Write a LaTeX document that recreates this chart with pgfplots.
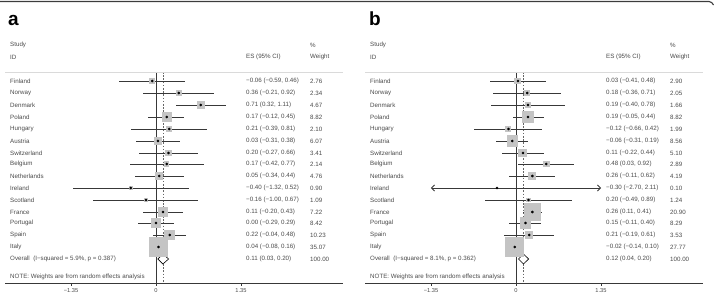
\documentclass[border=0pt]{standalone}
\usepackage{pgfplots}
\pgfplotsset{compat=1.18}
\usepackage{pgfplotstable}
\usepackage{fontspec}
\setmainfont{Liberation Sans}
\usetikzlibrary{arrows.meta}

\definecolor{txtgray}{HTML}{4A4A4A}
\definecolor{boxgray}{HTML}{C4C4C4}
\definecolor{cigray}{HTML}{383838}
\definecolor{rulegray}{HTML}{DADADA}
\definecolor{framegray}{HTML}{3C3C3C}

% columns: y = -(row position), es = estimate, lo/hi = 95% CI, w = % weight
\pgfplotstableread{
y    es    lo    hi    w
-81  -0.06 -0.59 0.46  2.76
-93   0.36 -0.21 0.92  2.34
-105  0.71  0.32 1.11  4.67
-117  0.17 -0.12 0.45  8.82
-129  0.21 -0.39 0.81  2.10
-141  0.03 -0.31 0.38  6.07
-153  0.20 -0.27 0.66  3.41
-164  0.17 -0.42 0.77  2.14
-176  0.05 -0.34 0.44  4.76
-188 -0.40 -1.32 0.52  0.90
-200 -0.16 -1.00 0.67  1.09
-212  0.11 -0.20 0.43  7.22
-223  0.00 -0.29 0.29  8.42
-235  0.22 -0.04 0.48 10.23
-247  0.04 -0.08 0.16 35.07
}\studiesA

% Ireland (-0.30, CI -2.70 to 2.11) runs past the axis range and is drawn on its own
\pgfplotstableread{
y    es    lo    hi    w
-81   0.03 -0.41 0.48  2.90
-93   0.18 -0.36 0.71  2.05
-105  0.19 -0.40 0.78  1.66
-117  0.19 -0.05 0.44  8.82
-129 -0.12 -0.66 0.42  1.99
-141 -0.06 -0.31 0.19  8.56
-153  0.11 -0.22 0.44  5.10
-164  0.48  0.03 0.92  2.89
-176  0.26 -0.11 0.62  4.19
-200  0.20 -0.49 0.89  1.24
-212  0.26  0.11 0.41 20.90
-223  0.15 -0.11 0.40  8.29
-235  0.21 -0.19 0.61  3.53
-247 -0.02 -0.14 0.10 27.77
}\studiesB

\pgfplotsset{
  forest/.style={
    anchor=south west, scale only axis,
    width=338pt, height=283pt,
    xmin=-2.398, xmax=2.970, ymin=-283, ymax=0,
    axis y line=none, axis x line*=bottom,
    x axis line style={line width=0.6pt, draw=cigray},
    xtick={-1.35,0,1.35}, xticklabels={−1.35,0,1.35},
    tick align=outside, major tick length=2.5pt,
    xtick style={line width=0.5pt, draw=cigray},
    ticklabel style={font=\fontsize{5.7}{6}\selectfont, text=txtgray},
    xticklabel style={yshift=0.5pt},
    clip=false,
  },
  boxes/.style={
    boxgray, scatter, only marks, mark=square*,
    mark options={draw=boxgray, fill=boxgray, line width=0pt},
    scatter/use mapped color={draw=boxgray, fill=boxgray},
    visualization depends on={\thisrow{w} \as \wt},
    scatter/@pre marker code/.append style={/tikz/mark size={#1*sqrt(\wt)}},
  },
  cis/.style={
    only marks, mark=*, mark size=1.1pt, mark options={fill=black, draw=none},
    error bars/.cd, x dir=both, x explicit, error mark=none,
    error bar style={line width=0.75pt, cigray},
  },
}

\newcommand\studyrow[5]{%
  \node[anchor=west] at (#1+10,#2) {#3};
  \node[anchor=west] at (#1+246,#2) {#4};
  \node[anchor=west] at (#1+310,#2) {#5};}

\begin{document}
\begin{tikzpicture}[x=1pt, y=-1pt]
\useasboundingbox (0,0) rectangle (714,296);

% frame line along the top
\draw[framegray, line width=1.1pt] (0,1.5) -- (709,1.5) to[out=0, in=120] (713.5,5);

% ---------------- panel a ----------------
\begin{axis}[forest, at={(5pt,-283pt)}]
  \addplot[cigray, line width=0.6pt] coordinates {(0,-72) (0,-283)};
  \addplot[black!60, line width=0.5pt, dash pattern=on 1.6pt off 1.6pt] coordinates {(0.11,-72) (0.11,-283)};
  \addplot[boxes=1.55] table[x=es, y=y] {\studiesA};
  \addplot[cis] table[x=es, y=y,
    x error plus expr=\thisrow{hi}-\thisrow{es},
    x error minus expr=\thisrow{es}-\thisrow{lo}] {\studiesA};
  \addplot[draw=black, fill=white, line width=0.6pt]
    coordinates {(0.03,-259) (0.11,-254) (0.20,-259) (0.11,-264)} -- cycle;
\end{axis}

% ---------------- panel b ----------------
\begin{axis}[forest, at={(365pt,-283pt)}]
  \addplot[cigray, line width=0.6pt] coordinates {(0,-72) (0,-283)};
  \addplot[black!60, line width=0.5pt, dash pattern=on 1.6pt off 1.6pt] coordinates {(0.12,-72) (0.12,-283)};
  \addplot[boxes=1.75] table[x=es, y=y] {\studiesB};
  \addplot[cis] table[x=es, y=y,
    x error plus expr=\thisrow{hi}-\thisrow{es},
    x error minus expr=\thisrow{es}-\thisrow{lo}] {\studiesB};
  % Ireland: interval clipped to the axis range
  \addplot[cigray, line width=0.75pt,
    {Straight Barb[length=3pt, width=6pt]}-{Straight Barb[length=3pt, width=6pt]}]
    coordinates {(-1.35,-188) (1.35,-188)};
  \addplot[only marks, mark=*, mark size=1.1pt, mark options={fill=black, draw=none}]
    coordinates {(-0.30,-188)};
  \addplot[draw=black, fill=white, line width=0.6pt]
    coordinates {(0.04,-259) (0.12,-254) (0.20,-259) (0.12,-264)} -- cycle;
\end{axis}

% header rules
\draw[rulegray, line width=0.6pt] (5,72) -- (343,72);
\draw[rulegray, line width=0.6pt] (365,72) -- (703,72);

% panel letters
\node[anchor=base west, font=\fontsize{19}{20}\selectfont\bfseries, inner sep=0] at (8,26) {a};
\node[anchor=base west, font=\fontsize{19}{20}\selectfont\bfseries, inner sep=0] at (369,26) {b};

\begin{scope}[every node/.style={inner sep=0, text=txtgray, font=\fontsize{6.2}{7}\selectfont}]
  \foreach \o in {0,360} {
    \node[anchor=west] at (\o+10,45) {Study};
    \node[anchor=west] at (\o+10,57) {ID};
    \node[anchor=west] at (\o+246,57) {ES (95\% CI)};
    \node[anchor=west] at (\o+310,45) {\%};
    \node[anchor=west] at (\o+310,57) {Weight};
    \node[anchor=west] at (\o+10,277) {NOTE: Weights are from random effects analysis};
  }
  % panel a text
  \studyrow{0}{81}{Finland}{−0.06 (−0.59, 0.46)}{2.76}
  \studyrow{0}{93}{Norway}{0.36 (−0.21, 0.92)}{2.34}
  \studyrow{0}{105}{Denmark}{0.71 (0.32, 1.11)}{4.67}
  \studyrow{0}{117}{Poland}{0.17 (−0.12, 0.45)}{8.82}
  \studyrow{0}{129}{Hungary}{0.21 (−0.39, 0.81)}{2.10}
  \studyrow{0}{141}{Austria}{0.03 (−0.31, 0.38)}{6.07}
  \studyrow{0}{153}{Switzerland}{0.20 (−0.27, 0.66)}{3.41}
  \studyrow{0}{164}{Belgium}{0.17 (−0.42, 0.77)}{2.14}
  \studyrow{0}{176}{Netherlands}{0.05 (−0.34, 0.44)}{4.76}
  \studyrow{0}{188}{Ireland}{−0.40 (−1.32, 0.52)}{0.90}
  \studyrow{0}{200}{Scotland}{−0.16 (−1.00, 0.67)}{1.09}
  \studyrow{0}{212}{France}{0.11 (−0.20, 0.43)}{7.22}
  \studyrow{0}{223}{Portugal}{0.00 (−0.29, 0.29)}{8.42}
  \studyrow{0}{235}{Spain}{0.22 (−0.04, 0.48)}{10.23}
  \studyrow{0}{247}{Italy}{0.04 (−0.08, 0.16)}{35.07}
  \studyrow{0}{259}{Overall\ \ (I−squared = 5.9\%, p = 0.387)}{0.11 (0.03, 0.20)}{100.00}
  % panel b text
  \studyrow{360}{81}{Finland}{0.03 (−0.41, 0.48)}{2.90}
  \studyrow{360}{93}{Norway}{0.18 (−0.36, 0.71)}{2.05}
  \studyrow{360}{105}{Denmark}{0.19 (−0.40, 0.78)}{1.66}
  \studyrow{360}{117}{Poland}{0.19 (−0.05, 0.44)}{8.82}
  \studyrow{360}{129}{Hungary}{−0.12 (−0.66, 0.42)}{1.99}
  \studyrow{360}{141}{Austria}{−0.06 (−0.31, 0.19)}{8.56}
  \studyrow{360}{153}{Switzerland}{0.11 (−0.22, 0.44)}{5.10}
  \studyrow{360}{164}{Belgium}{0.48 (0.03, 0.92)}{2.89}
  \studyrow{360}{176}{Netherlands}{0.26 (−0.11, 0.62)}{4.19}
  \studyrow{360}{188}{Ireland}{−0.30 (−2.70, 2.11)}{0.10}
  \studyrow{360}{200}{Scotland}{0.20 (−0.49, 0.89)}{1.24}
  \studyrow{360}{212}{France}{0.26 (0.11, 0.41)}{20.90}
  \studyrow{360}{223}{Portugal}{0.15 (−0.11, 0.40)}{8.29}
  \studyrow{360}{235}{Spain}{0.21 (−0.19, 0.61)}{3.53}
  \studyrow{360}{247}{Italy}{−0.02 (−0.14, 0.10)}{27.77}
  \studyrow{360}{259}{Overall\ \ (I−squared = 8.1\%, p = 0.362)}{0.12 (0.04, 0.20)}{100.00}
\end{scope}
\end{tikzpicture}
\end{document}
